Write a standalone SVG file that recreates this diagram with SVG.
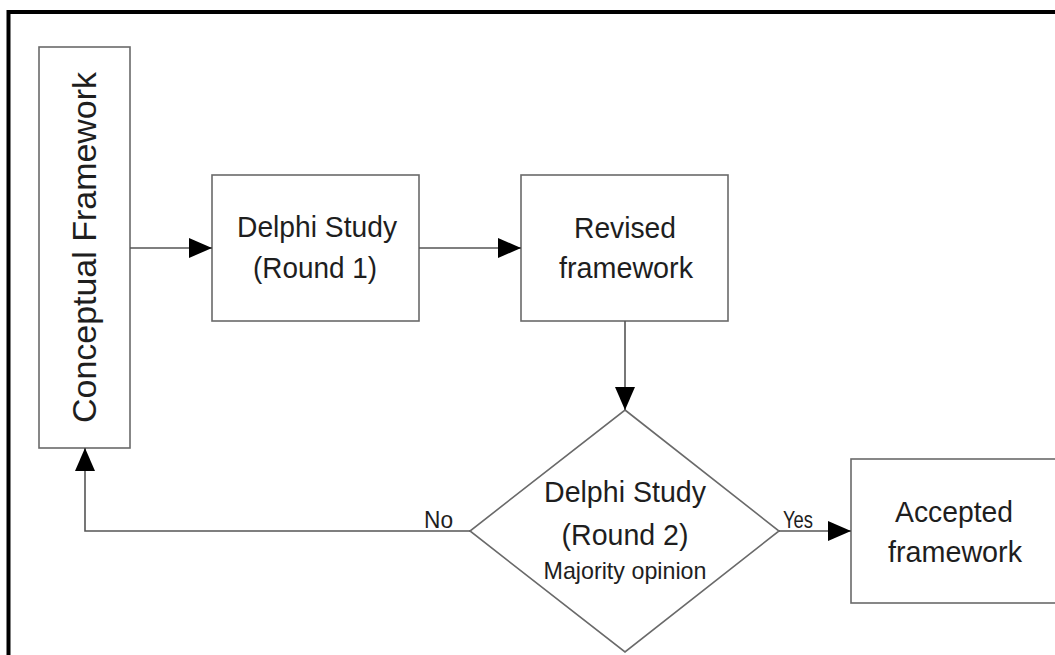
<svg xmlns="http://www.w3.org/2000/svg" width="1055" height="655" viewBox="0 0 1055 655">
  <defs>
    <style>
      .box { fill: #ffffff; stroke: #6a6a6a; stroke-width: 1.6; }
      .edge { fill: none; stroke: #555555; stroke-width: 1.6; }
      .lbl { font-family: "Liberation Sans", Arial, sans-serif; fill: #1e1e1e; text-anchor: middle; }
      .big { font-size: 30px; }
      .small { font-size: 24px; }
      .tag { font-family: "Liberation Sans", Arial, sans-serif; fill: #1e1e1e; font-size: 23px; }
    </style>
    <marker id="arrow" markerUnits="userSpaceOnUse" markerWidth="24" markerHeight="20" refX="23" refY="10" orient="auto">
      <path d="M0,0 L23,10 L0,20 Z" fill="#000000"/>
    </marker>
  </defs>

  <rect x="0" y="0" width="1055" height="655" fill="#ffffff"/>

  <!-- outer frame (top and left edges) -->
  <path d="M8.5,700 L8.5,12 L1100,12" fill="none" stroke="#000000" stroke-width="4"/>

  <g id="conceptual-framework">
    <rect class="box" x="39" y="47" width="91" height="401"/>
    <text class="lbl" transform="translate(96,247.5) rotate(-90)" style="font-size:34px" textLength="351" lengthAdjust="spacingAndGlyphs">Conceptual Framework</text>
  </g>

  <g id="delphi-round1">
    <rect class="box" x="212" y="175" width="207" height="146"/>
    <text class="lbl big" x="317" y="237" textLength="160" lengthAdjust="spacingAndGlyphs">Delphi Study</text>
    <text class="lbl big" x="315" y="278" textLength="124" lengthAdjust="spacingAndGlyphs">(Round 1)</text>
  </g>

  <g id="revised-framework">
    <rect class="box" x="521" y="175" width="207" height="146"/>
    <text class="lbl big" x="625" y="238" textLength="102" lengthAdjust="spacingAndGlyphs">Revised</text>
    <text class="lbl big" x="626" y="278" textLength="134" lengthAdjust="spacingAndGlyphs">framework</text>
  </g>

  <g id="delphi-round2">
    <polygon class="box" points="625,410 779,531 625,652 470,531"/>
    <text class="lbl big" x="625" y="502" textLength="162" lengthAdjust="spacingAndGlyphs">Delphi Study</text>
    <text class="lbl big" x="625" y="545" textLength="127" lengthAdjust="spacingAndGlyphs">(Round 2)</text>
    <text class="lbl small" x="625" y="579" textLength="163" lengthAdjust="spacingAndGlyphs">Majority opinion</text>
  </g>

  <g id="accepted-framework">
    <rect class="box" x="851" y="459" width="220" height="144"/>
    <text class="lbl big" x="954" y="522" textLength="118" lengthAdjust="spacingAndGlyphs">Accepted</text>
    <text class="lbl big" x="955" y="562" textLength="134" lengthAdjust="spacingAndGlyphs">framework</text>
  </g>

  <g id="connectors">
    <path class="edge" d="M130,248 L212,248" marker-end="url(#arrow)"/>
    <path class="edge" d="M419,248 L521,248" marker-end="url(#arrow)"/>
    <path class="edge" d="M625,321 L625,410" marker-end="url(#arrow)"/>
    <path class="edge" d="M470,531 L85,531 L85,448" marker-end="url(#arrow)"/>
    <path class="edge" d="M779,531 L851,531" marker-end="url(#arrow)"/>
    <text class="tag" x="424" y="528" textLength="29" lengthAdjust="spacingAndGlyphs">No</text>
    <text class="tag" x="783" y="528" textLength="30" lengthAdjust="spacingAndGlyphs">Yes</text>
  </g>
</svg>
